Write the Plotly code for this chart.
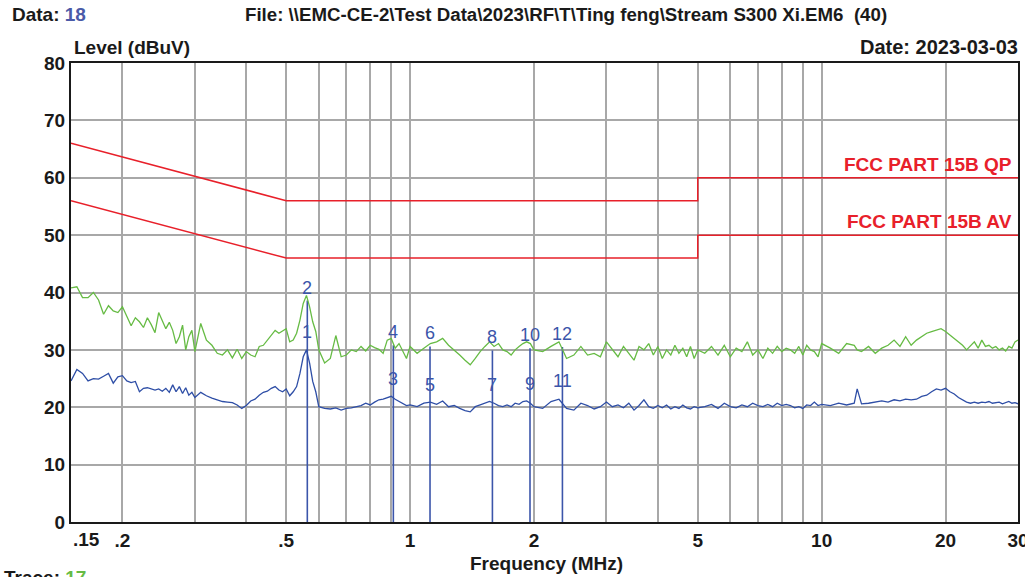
import math
import plotly.graph_objects as go

# ---------------- data ----------------
freq_mhz = [
    0.150, 0.155, 0.160, 0.165, 0.170, 0.175, 0.180, 0.185, 0.190, 0.195,
    0.200, 0.205, 0.210, 0.215, 0.220, 0.225, 0.230, 0.235, 0.240, 0.245,
    0.250, 0.255, 0.260, 0.265, 0.270, 0.275, 0.280, 0.285, 0.290, 0.295, 0.300,
    0.31, 0.32, 0.33, 0.34, 0.35, 0.36, 0.37, 0.38, 0.39, 0.40,
    0.41, 0.42, 0.43, 0.44, 0.45, 0.46, 0.47, 0.48, 0.49, 0.50,
    0.51, 0.52, 0.53, 0.54, 0.55, 0.56, 0.57, 0.58, 0.59, 0.60,
    0.62, 0.64, 0.66, 0.68, 0.70, 0.72, 0.74, 0.76, 0.78, 0.80,
    0.82, 0.84, 0.86, 0.88, 0.90, 0.92, 0.94, 0.96, 0.98, 1.00,
    1.04, 1.08, 1.12, 1.16, 1.20, 1.24, 1.28, 1.32, 1.36, 1.40,
    1.44, 1.48, 1.52, 1.56, 1.60, 1.64, 1.68, 1.72, 1.76, 1.80,
    1.84, 1.88, 1.92, 1.96, 2.00,
    2.1, 2.2, 2.3, 2.4, 2.5, 2.6, 2.7, 2.8, 2.9, 3.0,
    3.1, 3.2, 3.3, 3.4, 3.5, 3.6, 3.7, 3.8, 3.9, 4.0,
    4.1, 4.2, 4.3, 4.4, 4.5, 4.6, 4.7, 4.8, 4.9, 5.0,
    5.2, 5.4, 5.6, 5.8, 6.0, 6.2, 6.4, 6.6, 6.8, 7.0,
    7.2, 7.4, 7.6, 7.8, 8.0, 8.2, 8.4, 8.6, 8.8, 9.0,
    9.2, 9.4, 9.6, 9.8, 10.0,
    10.5, 11.0, 11.5, 12.0, 12.2, 12.5, 13.0, 13.5, 14.0, 14.5,
    15.0, 15.5, 16.0, 16.5, 17.0, 17.5, 18.0, 18.5, 19.0, 19.5,
    20.0, 20.5, 21.0, 21.5, 22.0, 22.5, 23.0, 23.5, 24.0, 24.5,
    25.0, 25.5, 26.0, 26.5, 27.0, 27.5, 28.0, 28.5, 29.0, 29.5, 30.0,
]

qp_trace_dbuv = [
    40.8, 41.0, 39.1, 39.1, 40.0, 38.7, 36.2, 37.7, 36.8, 36.5,
    37.5, 35.8, 34.2, 35.6, 34.9, 33.9, 35.6, 34.4, 33.0, 36.5,
    35.2, 33.7, 34.8, 33.4, 31.1, 32.3, 34.3, 30.0, 32.3, 33.4, 29.7,
    34.6, 31.7, 30.8, 29.4, 29.1, 30.0, 28.6, 30.1, 28.5, 29.7,
    29.1, 28.8, 30.6, 30.8, 31.7, 32.6, 33.4, 32.9, 33.3, 33.7,
    31.4, 31.7, 32.9, 35.2, 38.1, 39.5, 37.5, 34.9, 33.2, 30.0,
    27.7, 28.5, 32.5, 28.8, 29.1, 30.0, 29.7, 30.6, 29.8, 30.8,
    30.4, 30.1, 29.4, 31.7, 32.0, 30.3, 31.1, 29.7, 28.5, 30.6,
    29.4, 30.3, 31.1, 31.4, 32.0, 30.8, 30.0, 29.1, 28.2, 27.4,
    28.5, 29.7, 30.6, 31.4, 30.6, 31.1, 30.0, 29.7, 29.1, 30.0,
    30.6, 31.1, 31.4, 31.1, 30.0,
    29.7, 30.6, 31.4, 28.5, 29.1, 30.6, 29.1, 29.4, 28.8, 31.4,
    30.0, 28.8, 30.6, 29.4, 28.2, 30.6, 30.0, 31.1, 29.1, 30.6,
    28.5, 30.0, 29.1, 30.8, 29.4, 30.3, 28.8, 30.6, 28.5, 30.0,
    29.4, 30.6, 29.1, 30.8, 28.8, 30.3, 29.7, 31.4, 29.1, 30.0,
    28.5, 30.3, 29.4, 30.6, 29.7, 30.3, 30.0, 29.4, 30.6, 29.1,
    30.8, 30.0, 29.7, 28.8, 31.1,
    30.3, 29.4, 31.1, 30.8, 30.0, 29.7, 30.6, 29.4, 30.3, 30.8,
    31.7, 30.6, 32.3, 30.8, 31.7, 32.3, 32.9, 33.2, 33.4, 33.7,
    33.2, 32.6, 32.0, 31.4, 30.8, 30.0, 30.8, 31.4, 30.3, 31.7,
    30.6, 30.8, 30.3, 30.6, 30.0, 30.3, 29.8, 30.6, 30.3, 31.4, 31.7,
]

av_trace_dbuv = [
    24.6, 26.6, 25.9, 24.6, 25.0, 24.9, 25.4, 25.9, 24.2, 25.3,
    25.5, 24.6, 24.3, 24.5, 22.7, 23.3, 23.4, 23.2, 23.0, 23.2,
    22.8, 23.3, 22.6, 23.9, 22.7, 23.6, 22.4, 23.4, 22.1, 22.6, 21.7,
    22.6, 22.0, 21.6, 21.3, 21.0, 20.9, 20.8, 20.4, 19.8, 20.3,
    21.1, 21.4, 22.1, 22.6, 22.8, 23.3, 23.6, 23.0, 22.7, 23.2,
    22.0, 22.7, 23.6, 25.9, 28.8, 30.0, 27.7, 24.5, 22.7, 20.1,
    19.8, 19.7, 19.9, 19.5, 19.8, 19.9, 20.1, 20.3, 20.7, 20.4,
    20.9, 21.3, 21.4, 21.7, 21.9, 21.4, 21.0, 20.7, 20.3, 20.4,
    20.1, 20.7, 20.9, 20.5, 21.1, 20.1, 20.3, 19.8, 19.4, 19.2,
    20.1, 20.4, 20.7, 21.0, 20.7, 20.3, 20.1, 20.4, 20.1, 20.7,
    20.5, 21.0, 21.1, 20.7, 20.1,
    19.8, 21.0, 21.4, 19.8, 19.5, 20.7, 20.3, 19.7, 20.1, 20.9,
    20.1, 20.4, 19.9, 20.7, 19.5, 20.3, 21.3, 20.1, 19.8, 20.3,
    19.9, 20.4, 19.7, 20.1, 19.8, 20.4, 19.9, 19.7, 20.1, 19.9,
    20.1, 20.5, 19.8, 20.7, 20.1, 19.9, 20.4, 20.1, 20.7, 20.3,
    20.1, 20.5, 20.1, 20.7, 20.3, 20.5, 20.3, 19.9, 20.1, 19.8,
    20.4, 20.3, 20.9, 20.3, 20.5,
    20.3, 20.7, 20.4, 20.7, 23.2, 20.6, 20.7, 20.9, 21.1, 20.9,
    21.3, 21.1, 21.4, 21.3, 21.4, 21.9, 22.1, 22.7, 23.2, 23.0,
    23.3, 22.7, 22.3, 21.7, 21.3, 20.9, 20.7, 20.9, 20.7, 20.9,
    20.8, 21.0, 20.7, 20.8, 20.9, 20.6, 20.8, 21.0, 20.7, 20.8, 20.6,
]

limit_freq = [0.15, 0.5, 5.0, 5.0, 30.0]
limit_qp = [66, 56, 56, 60, 60]
limit_av = [56, 46, 46, 50, 50]
limit_names = ["FCC PART 15B QP", "FCC PART 15B AV"]

marker_freq = [0.5627, 0.9106, 1.118, 1.585, 1.956, 2.345]
marker_qp = [38.6, 30.8, 30.6, 29.9, 30.3, 30.5]
marker_av = [29.9, 21.8, 20.8, 20.7, 21.0, 21.5]
marker_qp_labels = ["2", "4", "6", "8", "10", "12"]
marker_av_labels = ["1", "3", "5", "7", "9", "11"]

x_tick_vals = [0.15, 0.2, 0.3, 0.4, 0.5, 0.6, 0.7, 0.8, 0.9, 1, 2, 3, 4, 5, 6, 7, 8, 9, 10, 20, 30]
x_tick_text = ["", ".2", "", "", ".5", "", "", "", "", "1", "2", "", "", "5", "", "", "", "", "10", "20", "30"]
y_tick_vals = [0, 10, 20, 30, 40, 50, 60, 70, 80]

# ---------------- style ----------------
FONT = "Liberation Sans, Arial, sans-serif"
GREEN = "#66bb44"
BLUE = "#2e4ea6"
MARK = "#3b55aa"
RED = "#e8202a"
GRID = "#a8a8a8"

L, R, T, B = 71, 7, 63, 55
W, H = 1025, 577
PW, PH = W - L - R, H - T - B
X0, X1 = math.log10(0.15), math.log10(30.0)


def px(xpix):
    return (xpix - L) / PW


def py(ypix):
    return (H - B - ypix) / PH


fig = go.Figure()

for vals in (limit_qp, limit_av):
    fig.add_trace(go.Scatter(x=limit_freq, y=vals, mode="lines",
                             line=dict(color=RED, width=1.5), hoverinfo="skip"))

for f, q in zip(marker_freq, marker_qp):
    fig.add_trace(go.Scatter(x=[f, f], y=[0, q], mode="lines",
                             line=dict(color=MARK, width=1.6), hoverinfo="skip"))

fig.add_trace(go.Scatter(x=freq_mhz, y=qp_trace_dbuv, mode="lines",
                         line=dict(color=GREEN, width=1.3)))
fig.add_trace(go.Scatter(x=freq_mhz, y=av_trace_dbuv, mode="lines",
                         line=dict(color=BLUE, width=1.3)))

ann = []
for f, q, t in zip(marker_freq, marker_qp, marker_qp_labels):
    ann.append(dict(x=math.log10(f), y=q, xref="x", yref="y", text=t, showarrow=False,
                    yanchor="bottom", yshift=1, font=dict(family=FONT, size=18, color=MARK)))
for f, a, t in zip(marker_freq, marker_av, marker_av_labels):
    ann.append(dict(x=math.log10(f), y=a, xref="x", yref="y", text=t, showarrow=False,
                    yanchor="bottom", yshift=6, font=dict(family=FONT, size=18, color=MARK)))

for vals, name in zip((limit_qp, limit_av), limit_names):
    ann.append(dict(x=px(1014), y=vals[-1], xref="paper", yref="y", text="<b>%s</b>" % name,
                    showarrow=False, xanchor="right", yanchor="bottom", yshift=1,
                    font=dict(family=FONT, size=19, color=RED)))

hdr = dict(family=FONT, size=19, color="#1a1a1a")
ann += [
    dict(x=px(10), y=py(15), xref="paper", yref="paper", xanchor="left", yanchor="middle",
         text="<b>Data: <span style='color:#4a5aa8'>18</span></b>", showarrow=False, font=hdr),
    dict(x=px(243), y=py(15), xref="paper", yref="paper", xanchor="left", yanchor="middle",
         text="<b>File: \\\\EMC-CE-2\\Test Data\\2023\\RF\\T\\Ting feng\\Stream S300 Xi.EM6  (40)</b>",
         showarrow=False, font=dict(family=FONT, size=18.7, color="#1a1a1a")),
    dict(x=px(1020), y=py(47), xref="paper", yref="paper", xanchor="right", yanchor="middle",
         text="<b>Date: 2023-03-03</b>", showarrow=False, font=dict(family=FONT, size=20, color="#1a1a1a")),
    dict(x=px(72), y=py(48), xref="paper", yref="paper", xanchor="left", yanchor="middle",
         text="<b>Level (dBuV)</b>", showarrow=False, font=hdr),
    dict(x=px(546), y=py(563), xref="paper", yref="paper", xanchor="center", yanchor="middle",
         text="<b>Frequency (MHz)</b>", showarrow=False, font=hdr),
    dict(x=px(2), y=py(565), xref="paper", yref="paper", xanchor="left", yanchor="top",
         text="<b>Trace: <span style='color:%s'>17</span></b>" % GREEN, showarrow=False, font=hdr),
    dict(x=X0, y=py(539), xref="x", yref="paper", xanchor="left", yanchor="middle",
         text="<b>.15</b>", showarrow=False, font=hdr),
]

fig.update_layout(
    width=W, height=H,
    margin=dict(l=L, r=R, t=T, b=B),
    paper_bgcolor="white", plot_bgcolor="white",
    showlegend=False,
    annotations=ann,
    font=dict(family=FONT, size=19, color="#1a1a1a"),
)
fig.update_xaxes(
    type="log", range=[X0, X1 + 1e-9],
    tickvals=x_tick_vals, ticktext=["<b>%s</b>" % t if t else "" for t in x_tick_text],
    showgrid=True, gridcolor=GRID, gridwidth=1.6,
    showline=True, linecolor="#1a1a1a", linewidth=2, mirror=True,
    ticks="", zeroline=False, automargin=False, ticklabeloverflow="allow",
    tickfont=dict(family=FONT, size=19, color="#1a1a1a"),
)
fig.update_yaxes(
    range=[0, 80], tickvals=y_tick_vals, ticktext=["<b>%d</b>" % v for v in y_tick_vals],
    showgrid=True, gridcolor=GRID, gridwidth=1.6,
    showline=True, linecolor="#1a1a1a", linewidth=2, mirror=True,
    ticks="", zeroline=False, automargin=False,
    tickfont=dict(family=FONT, size=19, color="#1a1a1a"),
)

fig.write_html("out.html", config={"displayModeBar": False},
               post_script="document.body.style.margin='0';")
